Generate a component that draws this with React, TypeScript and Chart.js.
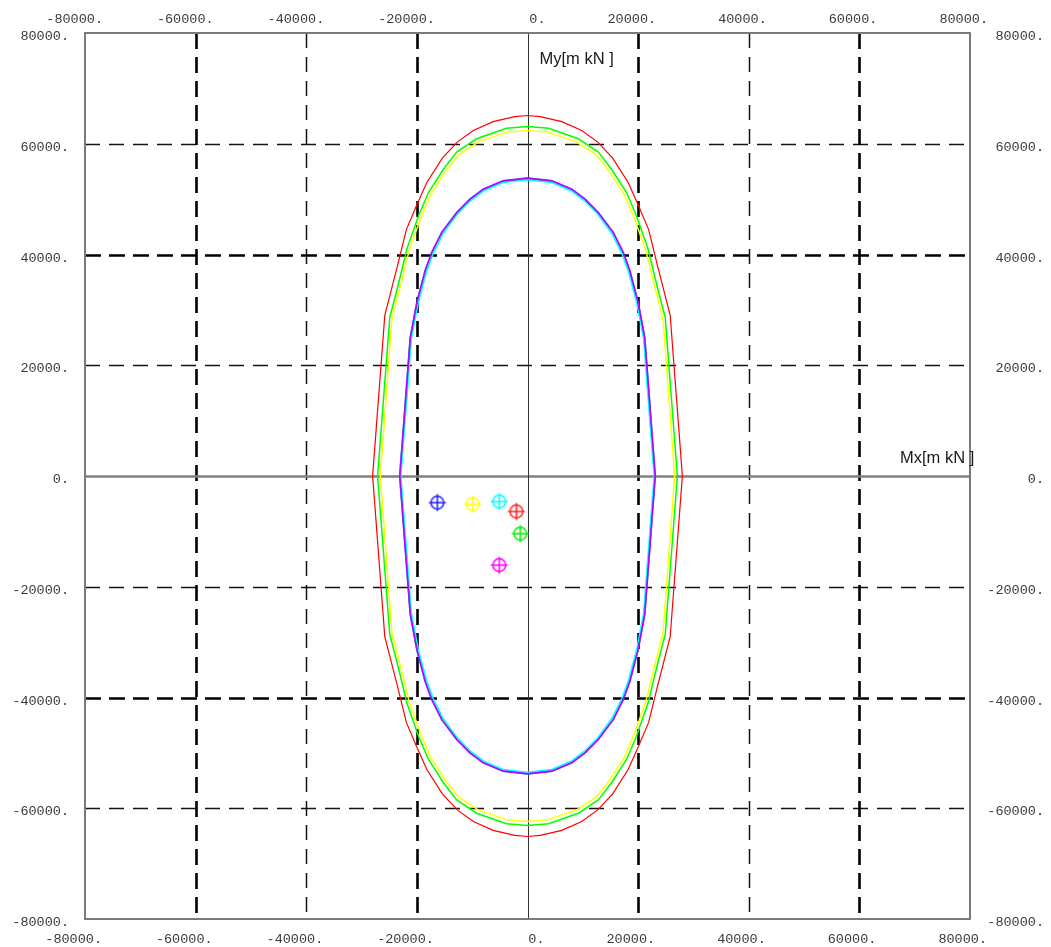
import React, { useEffect, useRef } from "react";
import { Chart, registerables } from "chart.js";

Chart.register(...registerables);

const AXIS_MIN = -80000;
const AXIS_MAX = 80000;
const tickValues = [-80000, -60000, -40000, -20000, 0, 20000, 40000, 60000, 80000];
const tickLabels = ["-80000.", "-60000.", "-40000.", "-20000.", "0.", "20000.", "40000.", "60000.", "80000."];
const heavyGridX = [-60000, -20000, 20000, 60000];
const lightGridX = [-40000, 40000];
const heavyGridY = [-40000, 40000];
const lightGridY = [-60000, -20000, 20000, 60000];

const xTitle = "Mx[m kN ]";
const yTitle = "My[m kN ]";

const redCurve: [number, number][] = [
  [28000, 0], [25800, 29000], [23500, 38000], [21900, 44500], [20000, 49000], [18200, 53000], [15400, 57400], [12700, 60300], [9800, 62400], [6200, 64000], [2300, 64900], [0, 65100],
  [-2300, 64900], [-6200, 64000], [-9800, 62400], [-12700, 60300], [-15400, 57400], [-18200, 53000], [-20000, 49000], [-21900, 44500], [-23500, 38000], [-25800, 29000], [-28000, 0],
  [-25800, -29000], [-23500, -38000], [-21900, -44500], [-20000, -49000], [-18200, -53000], [-15400, -57400], [-12700, -60300], [-9800, -62400], [-6200, -64000], [-2300, -64900], [0, -65100],
  [2300, -64900], [6200, -64000], [9800, -62400], [12700, -60300], [15400, -57400], [18200, -53000], [20000, -49000], [21900, -44500], [23500, -38000], [25800, -29000], [28000, 0],
];

const greenCurve: [number, number][] = [
  [27100, 0], [24900, 28600], [23400, 34400], [21800, 41000], [19700, 47000], [17900, 51200], [15200, 55400], [12800, 58500], [9200, 60900], [3800, 62800], [0, 63100],
  [-3800, 62800], [-9200, 60900], [-12800, 58500], [-15200, 55400], [-17900, 51200], [-19700, 47000], [-21800, 41000], [-23400, 34400], [-24900, 28600], [-27100, 0],
  [-24900, -28600], [-23400, -34400], [-21800, -41000], [-19700, -47000], [-17900, -51200], [-15200, -55400], [-12800, -58500], [-9200, -60900], [-3800, -62800], [0, -63100],
  [3800, -62800], [9200, -60900], [12800, -58500], [15200, -55400], [17900, -51200], [19700, -47000], [21800, -41000], [23400, -34400], [24900, -28600], [27100, 0],
];

const yellowCurve: [number, number][] = [
  [26600, 0], [24500, 28400], [23000, 34200], [21400, 40700], [19300, 46600], [17500, 50800], [14800, 55000], [12400, 58000], [8900, 60300], [3700, 62100], [0, 62400],
  [-3700, 62100], [-8900, 60300], [-12400, 58000], [-14800, 55000], [-17500, 50800], [-19300, 46600], [-21400, 40700], [-23000, 34200], [-24500, 28400], [-26600, 0],
  [-24500, -28400], [-23000, -34200], [-21400, -40700], [-19300, -46600], [-17500, -50800], [-14800, -55000], [-12400, -58000], [-8900, -60300], [-3700, -62100], [0, -62400],
  [3700, -62100], [8900, -60300], [12400, -58000], [14800, -55000], [17500, -50800], [19300, -46600], [21400, -40700], [23000, -34200], [24500, -28400], [26600, 0],
];

const cyanCurve: [number, number][] = [
  [22900, 0], [21000, 24800], [19800, 31100], [18300, 36800], [17100, 40100], [15300, 43700], [12700, 47300], [10300, 49700], [7900, 51500], [4400, 53000], [0, 53500],
  [-4400, 53000], [-7900, 51500], [-10300, 49700], [-12700, 47300], [-15300, 43700], [-17100, 40100], [-18300, 36800], [-19800, 31100], [-21000, 24800], [-22900, 0],
  [-21000, -24800], [-19800, -31100], [-18300, -36800], [-17100, -40100], [-15300, -43700], [-12700, -47300], [-10300, -49700], [-7900, -51500], [-4400, -53000], [0, -53500],
  [4400, -53000], [7900, -51500], [10300, -49700], [12700, -47300], [15300, -43700], [17100, -40100], [18300, -36800], [19800, -31100], [21000, -24800], [22900, 0],
];

const blueCurve: [number, number][] = [
  [23100, 0], [21200, 25000], [20000, 31400], [18500, 37100], [17300, 40400], [15500, 44000], [12800, 47600], [10400, 50000], [8000, 51800], [4400, 53300], [0, 53800],
  [-4400, 53300], [-8000, 51800], [-10400, 50000], [-12800, 47600], [-15500, 44000], [-17300, 40400], [-18500, 37100], [-20000, 31400], [-21200, 25000], [-23100, 0],
  [-21200, -25000], [-20000, -31400], [-18500, -37100], [-17300, -40400], [-15500, -44000], [-12800, -47600], [-10400, -50000], [-8000, -51800], [-4400, -53300], [0, -53800],
  [4400, -53300], [8000, -51800], [10400, -50000], [12800, -47600], [15500, -44000], [17300, -40400], [18500, -37100], [20000, -31400], [21200, -25000], [23100, 0],
];

const magentaCurve: [number, number][] = [
  [23100, 0], [21200, 25000], [20000, 31400], [18500, 37100], [17300, 40400], [15500, 44000], [12800, 47600], [10400, 50000], [8000, 51800], [4400, 53300], [0, 53800],
  [-4400, 53300], [-8000, 51800], [-10400, 50000], [-12800, 47600], [-15500, 44000], [-17300, 40400], [-18500, 37100], [-20000, 31400], [-21200, 25000], [-23100, 0],
  [-21200, -25000], [-20000, -31400], [-18500, -37100], [-17300, -40400], [-15500, -44000], [-12800, -47600], [-10400, -50000], [-8000, -51800], [-4400, -53300], [0, -53800],
  [4400, -53300], [8000, -51800], [10400, -50000], [12800, -47600], [15500, -44000], [17300, -40400], [18500, -37100], [20000, -31400], [21200, -25000], [23100, 0],
];

const markerColors = ["#2020ff", "#ffff00", "#00ffff", "#ff2020", "#00ee00", "#ff00ff"];
const markerX = [-16300, -9900, -5100, -2000, -1300, -5100];
const markerY = [-4800, -5100, -4600, -6400, -10400, -16100];

function toPts(c: [number, number][]) {
  return c.map(([x, y]) => ({ x, y }));
}

function makeMarker(color: string): HTMLCanvasElement {
  const c = document.createElement("canvas");
  c.width = 20;
  c.height = 20;
  const g = c.getContext("2d")!;
  g.strokeStyle = color;
  g.lineWidth = 1.5;
  g.beginPath();
  g.arc(10, 10, 6.4, 0, Math.PI * 2);
  g.stroke();
  g.beginPath();
  g.moveTo(1.5, 10);
  g.lineTo(18.5, 10);
  g.moveTo(10, 1.5);
  g.lineTo(10, 18.5);
  g.stroke();
  return c;
}

const framePlugin = {
  id: "frame",
  beforeDatasetsDraw(chart: any) {
    const { ctx, chartArea: a, scales } = chart;
    const xs = scales.x;
    const ys = scales.y;
    ctx.save();
    const vline = (v: number, w: number, color: string, dash: number[]) => {
      const px = Math.round(xs.getPixelForValue(v)) + 0.5;
      ctx.beginPath();
      ctx.setLineDash(dash);
      ctx.lineWidth = w;
      ctx.strokeStyle = color;
      ctx.moveTo(px, a.top);
      ctx.lineTo(px, a.bottom);
      ctx.stroke();
    };
    const hline = (v: number, w: number, color: string, dash: number[]) => {
      const py = Math.round(ys.getPixelForValue(v)) + 0.5;
      ctx.beginPath();
      ctx.setLineDash(dash);
      ctx.lineWidth = w;
      ctx.strokeStyle = color;
      ctx.moveTo(a.left, py);
      ctx.lineTo(a.right, py);
      ctx.stroke();
    };
    lightGridX.forEach((v) => vline(v, 1.5, "#111", [15, 9]));
    lightGridY.forEach((v) => hline(v, 1.5, "#111", [15, 9]));
    heavyGridX.forEach((v) => vline(v, 2.6, "#000", [16, 8]));
    heavyGridY.forEach((v) => hline(v, 2.6, "#000", [16, 8]));
    hline(0, 2.5, "#808080", []);
    vline(0, 1, "#333", []);
    ctx.restore();
  },
  afterDraw(chart: any) {
    const { ctx, chartArea: a, scales } = chart;
    const xs = scales.x;
    const ys = scales.y;
    ctx.save();
    ctx.setLineDash([]);
    ctx.strokeStyle = "#7a7a7a";
    ctx.lineWidth = 2;
    ctx.strokeRect(a.left, a.top, a.right - a.left, a.bottom - a.top);

    ctx.font = '13.5px "Liberation Mono"';
    ctx.fillStyle = "#3a3a3a";
    ctx.textAlign = "right";
    ctx.textBaseline = "alphabetic";
    tickValues.forEach((v, i) => {
      const px = xs.getPixelForValue(v);
      ctx.fillText(tickLabels[i], px + 18, 23);
      ctx.fillText(tickLabels[i], px + 17, 943);
      const py = ys.getPixelForValue(v);
      ctx.fillText(tickLabels[i], 69, py + 7);
      ctx.fillText(tickLabels[i], 1044, py + 7);
    });

    ctx.font = '16.5px "Liberation Sans"';
    ctx.fillStyle = "#1a1a1a";
    ctx.textAlign = "left";
    ctx.fillText(yTitle, xs.getPixelForValue(0) + 12, 64);
    ctx.fillText(xTitle, 900, ys.getPixelForValue(0) - 13);
    ctx.restore();
  },
};

export default function App() {
  const ref = useRef<HTMLCanvasElement | null>(null);
  useEffect(() => {
    if (!ref.current) return;
    const markerImgs = markerColors.map(makeMarker);
    const lineDs = (data: [number, number][], color: string, width = 1.5) => ({
      type: "scatter" as const,
      data: toPts(data),
      showLine: true,
      borderColor: color,
      backgroundColor: color,
      borderWidth: width,
      pointRadius: 0,
      fill: false,
      tension: 0,
    });
    const chart = new Chart(ref.current, {
      type: "scatter",
      data: {
        datasets: [
          {
            data: markerX.map((x, i) => ({ x, y: markerY[i] })),
            pointStyle: (ctx: any) => markerImgs[ctx.dataIndex % markerImgs.length],
            pointRadius: 8,
            showLine: false,
          } as any,
          lineDs(magentaCurve, "rgba(255,0,255,0.6)", 1.6),
          lineDs(blueCurve, "#2020ff", 1.6),
          lineDs(cyanCurve, "#00ffff", 1.6),
          lineDs(yellowCurve, "#ffff00", 1.5),
          lineDs(greenCurve, "#00ff00", 1.5),
          lineDs(redCurve, "#ff0000", 1.2),
        ],
      },
      options: {
        animation: false,
        responsive: false,
        layout: { padding: { left: 85, top: 33, right: 81, bottom: 28 } },
        scales: {
          x: { type: "linear", min: AXIS_MIN, max: AXIS_MAX, display: false },
          y: { type: "linear", min: AXIS_MIN, max: AXIS_MAX, display: false },
        },
        plugins: { legend: { display: false }, tooltip: { enabled: false } },
      },
      plugins: [framePlugin],
    });
    return () => chart.destroy();
  }, []);
  return (
    <div style={{ position: "fixed", left: 0, top: 0, width: 1051, height: 947, background: "#fff" }}>
      <canvas ref={ref} width={1051} height={947} style={{ display: "block" }} />
    </div>
  );
}
